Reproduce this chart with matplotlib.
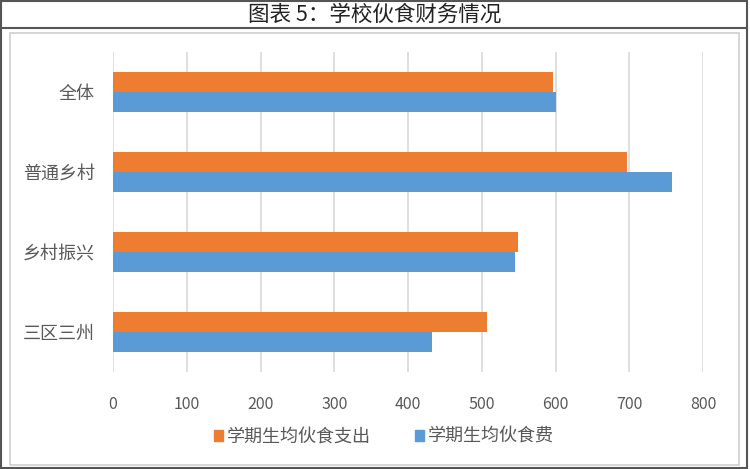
import numpy as np
import matplotlib.pyplot as plt
from matplotlib.patches import Rectangle
from matplotlib.lines import Line2D

plt.rcParams['font.family'] = ['Noto Sans CJK SC', 'DejaVu Sans']

categories = ['全体', '普通乡村', '乡村振兴', '三区三州']
spend = [597, 697, 549, 507]      # 学期生均伙食支出
fee = [601, 758, 545, 432]        # 学期生均伙食费
series_names = ['学期生均伙食支出', '学期生均伙食费']
xticks = [0, 100, 200, 300, 400, 500, 600, 700, 800]

orange = '#ED7D31'
blue = '#5B9BD5'
textc = '#595959'
W, H = 750, 469

fig = plt.figure(figsize=(7.5, 4.69), dpi=100)
ax = fig.add_axes([113 / W, 1 - 372 / H, (703 - 113) / W, (372 - 52) / H])

y = np.arange(len(categories))
h = 0.25
ax.barh(y - h / 2, spend, height=h, color=orange, label=series_names[0], zorder=3)
ax.barh(y + h / 2, fee, height=h, color=blue, label=series_names[1], zorder=3)

ax.set_ylim(len(categories) - 0.5, -0.5)
ax.set_xlim(0, 800)
ax.set_yticks(y)
ax.set_yticklabels(categories, fontsize=13, color=textc)
ax.set_xticks(xticks)
ax.set_xticklabels([str(t) for t in xticks], fontsize=11.5, color=textc)
ax.tick_params(axis='both', length=0)
ax.tick_params(axis='y', pad=13)
ax.tick_params(axis='x', pad=17)
ax.grid(axis='x', color='#D9D9D9', linewidth=1.2, zorder=0)
for s in ax.spines.values():
    s.set_visible(False)

handles = [Rectangle((0, 0), 1, 1, color=orange), Rectangle((0, 0), 1, 1, color=blue)]
fig.legend(handles, series_names, loc='center', bbox_to_anchor=(384 / W, 1 - 437 / H),
           ncol=2, frameon=False, fontsize=13, handlelength=0.5, handleheight=0.5,
           handletextpad=0.25, columnspacing=2.4, labelcolor=textc)

# borders
fig.patches.append(Rectangle((10 / W, 1 - 465 / H), 729 / W, (465 - 33) / H,
                             transform=fig.transFigure, fill=False,
                             edgecolor='#D0D0D0', linewidth=1.2))
fig.patches.append(Rectangle((1 / W, 1 - 467.5 / H), 746 / W, 466 / H,
                             transform=fig.transFigure, fill=False,
                             edgecolor='#555555', linewidth=1.5))
fig.lines.append(Line2D([1 / W, 747 / W], [1 - 28 / H, 1 - 28 / H],
                        transform=fig.transFigure, color='#555555', linewidth=1.5))

fig.text(0.5, 1 - 14.5 / H, '图表 5：学校伙食财务情况', ha='center', va='center',
         fontsize=15.5, color='#222222')

fig.savefig('out.png', dpi=100)
